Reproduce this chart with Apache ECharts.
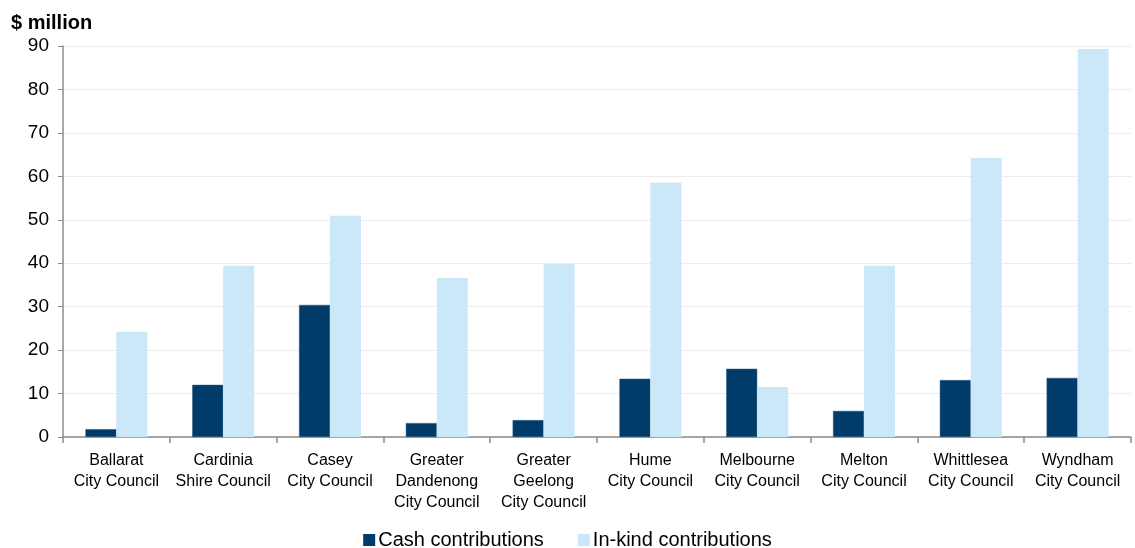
<!DOCTYPE html>
<html><head><meta charset="utf-8">
<script src="https://cdn.jsdelivr.net/npm/echarts@6/dist/echarts.min.js"></script>
<style>html,body{margin:0;padding:0;background:#fff}#c{width:1135px;height:548px}</style>
</head><body><div id="c"></div>
<script>
const categories = ["Ballarat\nCity Council","Cardinia\nShire Council","Casey\nCity Council","Greater\nDandenong\nCity Council","Greater\nGeelong\nCity Council","Hume\nCity Council","Melbourne\nCity Council","Melton\nCity Council","Whittlesea\nCity Council","Wyndham\nCity Council"];
const cashValues = [1.8, 12.0, 30.4, 3.2, 3.9, 13.4, 15.7, 6.0, 13.1, 13.6];
const inkindValues = [24.2, 39.4, 50.9, 36.6, 39.8, 58.5, 11.5, 39.4, 64.2, 89.3];
const seriesNames = ["Cash contributions", "In-kind contributions"];
const yTitle = "$ million";

const chart = echarts.init(document.getElementById('c'), null, {renderer:'canvas'});
chart.setOption({
  animation:false,
  textStyle:{fontFamily:'Liberation Sans, Arial, sans-serif'},
  title:{text:yTitle,left:6,top:8,textStyle:{fontSize:20,fontWeight:'bold',color:'#000',fontFamily:'Liberation Sans, Arial, sans-serif'}},
  legend:{top:525,left:'center',itemWidth:12,itemHeight:12,itemGap:34,icon:'rect',
    itemStyle:{borderWidth:0},
    textStyle:{fontSize:20,color:'#000',padding:[0,0,0,-2]},data:seriesNames},
  grid:{left:63,right:4,top:46,bottom:111,containLabel:false},
  xAxis:{type:'category',data:categories,
    axisLine:{lineStyle:{color:'#8c8c8c',width:1.5}},
    axisTick:{show:true,length:6,lineStyle:{color:'#8c8c8c',width:1.5}},
    axisLabel:{interval:0,margin:13,fontSize:16,lineHeight:21,color:'#000',fontFamily:'Liberation Sans Narrow, Arial Narrow, sans-serif'}},
  yAxis:{type:'value',min:0,max:90,interval:10,
    axisLine:{show:true,lineStyle:{color:'#8c8c8c',width:1.5}},
    axisTick:{show:true,length:5,lineStyle:{color:'#8c8c8c'}},
    splitLine:{lineStyle:{color:'#ececec'}},
    axisLabel:{fontSize:19,color:'#000',margin:14}},
  series:[
    {name:seriesNames[0],type:'bar',data:cashValues,barGap:'0%',barCategoryGap:'42%',
     itemStyle:{color:'#003b69',borderColor:'#2b5a80',borderWidth:0.5}},
    {name:seriesNames[1],type:'bar',data:inkindValues,barGap:'0%',barCategoryGap:'42%',
     itemStyle:{color:'#cbe8f9'}}
  ]
});
</script></body></html>
